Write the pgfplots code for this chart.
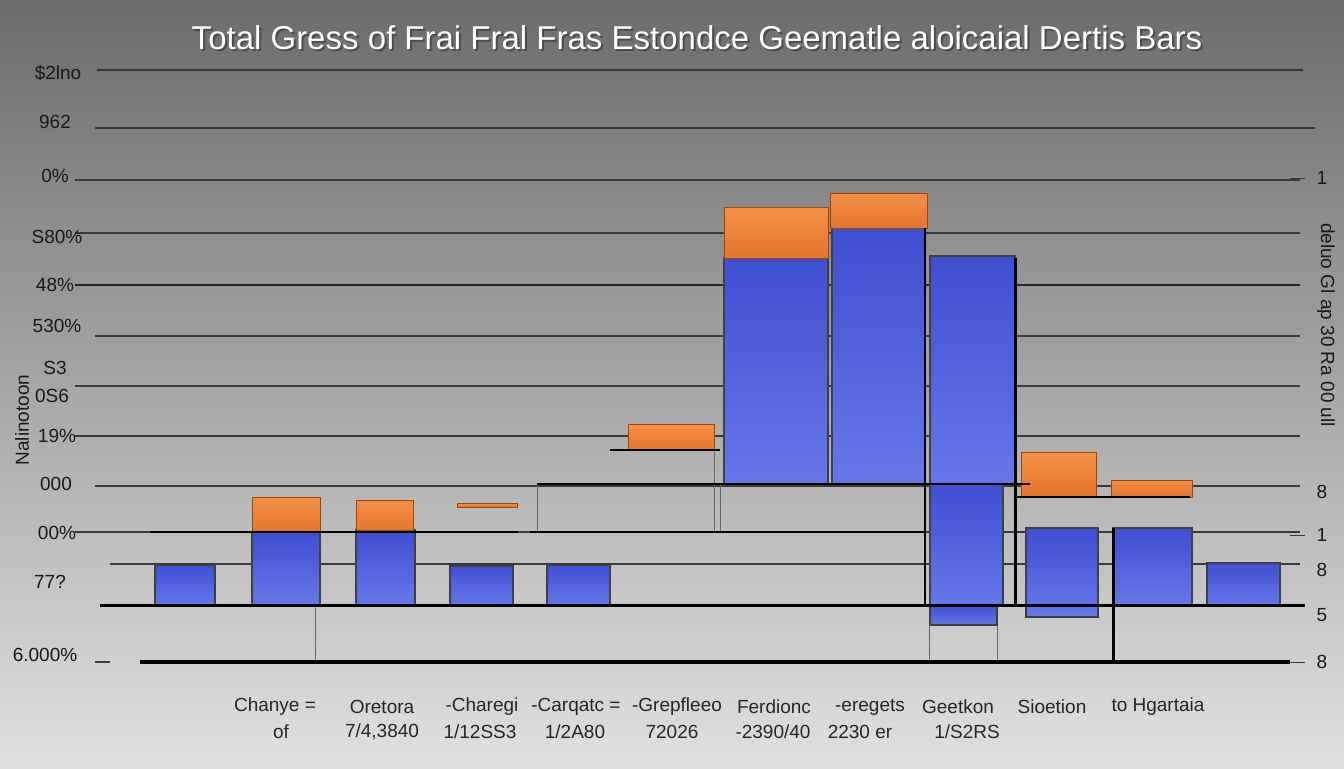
\documentclass[border=0pt]{standalone}
\usepackage{pgfplots}
\pgfplotsset{compat=1.18}
\usepackage{fontspec}
\setmainfont{Liberation Sans}
\definecolor{bbtop}{HTML}{3E4FD2}
\definecolor{bbbot}{HTML}{6478EA}
\definecolor{ortop}{HTML}{F39045}
\definecolor{orbot}{HTML}{E6742F}
\definecolor{gridc}{HTML}{3A3A3A}
\newcommand{\bbar}[4]{\addplot[draw=black!75, line width=0.8pt, top color=bbtop, bottom color=bbbot, forget plot] coordinates {(#1,#3)(#2,#3)(#2,#4)(#1,#4)} -- cycle;}
\newcommand{\obar}[4]{\addplot[draw=orange!60!black, line width=0.5pt, top color=ortop, bottom color=orbot, forget plot] coordinates {(#1,#3)(#2,#3)(#2,#4)(#1,#4)} -- cycle;}
\newcommand{\hl}[4]{\addplot[draw=#4, forget plot] coordinates {(#1,#3)(#2,#3)};}
\newcommand{\vl}[4]{\addplot[draw=#4, forget plot] coordinates {(#1,#2)(#1,#3)};}
\begin{document}
\begin{tikzpicture}
\begin{axis}[
  scale only axis, width=672pt, height=384pt,
  xmin=0, xmax=1344, ymin=0, ymax=768, y dir=reverse,
  axis line style={draw=none}, xtick=\empty, ytick=\empty,
  clip=false,
  axis background/.style={shade, top color=black!58, bottom color=black!12},
]
% grid lines
\hl{97}{1303}{70}{gridc, line width=0.6pt}
\hl{95}{1315}{128}{gridc, line width=0.6pt}
\hl{75}{1300}{180}{gridc, line width=0.6pt}
\hl{75}{1300}{233}{gridc, line width=0.6pt}
\hl{75}{1300}{285}{black!85, line width=1pt}
\hl{95}{1300}{336}{gridc, line width=0.6pt}
\hl{75}{1300}{386}{gridc, line width=0.6pt}
\hl{75}{1300}{436}{gridc, line width=0.6pt}
\hl{95}{1300}{486}{gridc, line width=0.6pt}
\hl{75}{1300}{532}{gridc, line width=0.6pt}
\hl{110}{1300}{564}{gridc, line width=0.6pt}
\hl{95}{110}{662}{gridc, line width=0.6pt}
% thin connectors
\vl{315}{532}{662}{black!60, line width=0.5pt}
\vl{537}{484}{532}{black!60, line width=0.5pt}
\vl{714}{450}{532}{black!60, line width=0.5pt}
\vl{720}{484}{532}{black!60, line width=0.5pt}
\vl{929}{605}{662}{black!60, line width=0.5pt}
\vl{997}{625}{662}{black!60, line width=0.5pt}
% bars
\bbar{155}{215}{565}{605}
\bbar{252}{320}{532}{605}
\obar{252}{320}{497}{532}
\bbar{356}{415}{530}{605}
\obar{356}{413}{500}{530}
\bbar{450}{513}{566}{605}
\obar{457}{517}{503}{507}
\bbar{547}{610}{565}{605}
\obar{628}{714}{424}{450}
\bbar{724}{828}{258}{484}
\obar{724}{828}{207}{258}
\bbar{832}{925}{228}{484}
\obar{830}{927}{193}{228}
\bbar{930}{1015}{256}{484}
\bbar{930}{1003}{484}{605}
\bbar{930}{997}{605}{625}
\bbar{1026}{1098}{528}{617}
\obar{1021}{1096}{452}{497}
\bbar{1113}{1192}{528}{605}
\obar{1111}{1192}{480}{497}
\bbar{1207}{1280}{563}{605}
% black structure lines
\hl{150}{518}{532}{black, line width=0.8pt}
\hl{530}{925}{532}{black, line width=0.8pt}
\hl{537}{1030}{484}{black, line width=1.2pt}
\hl{610}{720}{450}{black, line width=0.8pt}
\hl{1017}{1190}{497}{black, line width=0.8pt}
\vl{925}{228}{605}{black, line width=1.2pt}
\vl{1015}{258}{605}{black, line width=1.5pt}
\vl{1113}{528}{662}{black, line width=1.5pt}
\hl{100}{1305}{605}{black, line width=1.5pt}
\hl{140}{1290}{662}{black, line width=2pt}
% right ticks
\hl{1290}{1305}{178}{gridc}
\hl{1290}{1305}{535}{gridc}
\hl{1290}{1305}{662}{gridc}
% title
\node[text=black!70, font=\fontsize{16.5}{18}\selectfont] at (axis cs:699,39.5) {Total Gress of Frai Fral Fras Estondce Geematle aloicaial Dertis Bars};
\node[text=white, font=\fontsize{16.5}{18}\selectfont] at (axis cs:697,38) {Total Gress of Frai Fral Fras Estondce Geematle aloicaial Dertis Bars};
% left labels
\begin{scope}[every node/.style={text=black!90, font=\fontsize{9.5}{10}\selectfont}]
\node at (axis cs:58,73) {\$2lno};
\node at (axis cs:55,122) {962};
\node at (axis cs:55,176) {0\%};
\node at (axis cs:57,237) {S80\%};
\node at (axis cs:55,285) {48\%};
\node at (axis cs:57,326) {530\%};
\node at (axis cs:55,368) {S3};
\node at (axis cs:52,396) {0S6};
\node at (axis cs:57,436) {19\%};
\node at (axis cs:56,484) {000};
\node at (axis cs:57,533) {00\%};
\node at (axis cs:50,582) {77?};
\node at (axis cs:45,655) {6.000\%};
\node[rotate=90] at (axis cs:22,420) {Nalinotoon};
% right labels
\node at (axis cs:1322,178) {1};
\node[rotate=-90] at (axis cs:1326,325) {deluo Gl ap 30 Ra 00 ull};
\node at (axis cs:1322,492) {8};
\node at (axis cs:1322,535) {1};
\node at (axis cs:1322,570) {8};
\node at (axis cs:1322,615) {5};
\node at (axis cs:1322,662) {8};
\end{scope}
% x labels
\begin{scope}[every node/.style={text=black!85, font=\fontsize{9.5}{11}\selectfont}]
\node at (axis cs:275,707) {Chanye =};
\node at (axis cs:281,732) {of};
\node at (axis cs:382,707) {Oretora};
\node at (axis cs:382,732) {7/4,3840};
\node at (axis cs:482,707) {-Charegi};
\node at (axis cs:480,732) {1/12SS3};
\node at (axis cs:576,707) {-Carqatc =};
\node at (axis cs:575,732) {1/2A80};
\node at (axis cs:677,707) {-Grepfleeo};
\node at (axis cs:672,732) {72026};
\node at (axis cs:774,707) {Ferdionc};
\node at (axis cs:773,732) {-2390/40};
\node at (axis cs:870,707) {-eregets};
\node at (axis cs:860,732) {2230 er};
\node at (axis cs:958,707) {Geetkon};
\node at (axis cs:967,732) {1/S2RS};
\node at (axis cs:1052,707) {Sioetion};
\node at (axis cs:1158,707) {to Hgartaia};
\end{scope}
\end{axis}
\end{tikzpicture}
\end{document}
